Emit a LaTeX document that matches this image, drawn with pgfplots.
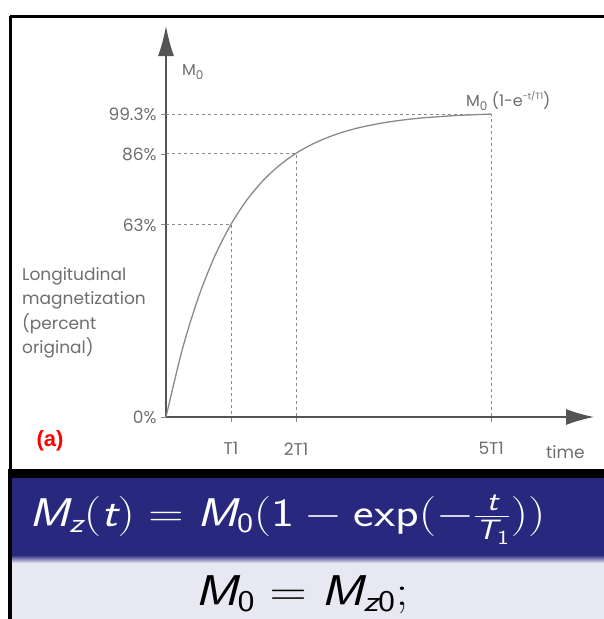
\RequirePackage{fix-cm}
\documentclass[border=0pt]{standalone}
\usepackage{amsmath}
\usepackage{fontspec}
\usepackage{pgfplots}
\pgfplotsset{compat=1.18}
\usetikzlibrary{arrows.meta}
\newfontfamily\pop{Poppins}
\newfontfamily\arial{Liberation Sans}
\definecolor{bandblue}{HTML}{28287F}
\definecolor{lav}{HTML}{E8E8F2}
\definecolor{lbl}{HTML}{6E6E6E}
\definecolor{crv}{HTML}{8A8A8A}
\definecolor{axc}{HTML}{555555}
\newcommand\sv[1]{\text{\sffamily\slshape #1}}
\newcommand\su[1]{\text{\sffamily #1}}
\begin{document}
\begin{tikzpicture}[x=1pt,y=1pt]
\path[use as bounding box] (0,0) rectangle (603,-619);
% frame
\draw[line width=3pt] (10,-16) -- (612,-16);
\draw[line width=3pt] (10,-16) -- (10,-471);
\fill[black] (8,-469) rectangle (612,-477.5);
\fill[bandblue] (8,-477.5) rectangle (612,-555);
\shade[top color=bandblue, bottom color=lav] (8,-555) rectangle (612,-563);
\fill[lav] (8,-563) rectangle (612,-619);
\fill[black] (8,-477) rectangle (12,-619);
\begin{axis}[
  at={(166pt,-417pt)}, anchor=south west,
  scale only axis, width=428pt, height=391pt,
  xmin=0, xmax=6.58, ymin=0, ymax=128.2,
  axis lines=left,
  axis line style={draw=axc, line width=1.3pt},
  every outer x axis line/.append style={-{Latex[length=28pt,width=16pt]}},
  every outer y axis line/.append style={-{Latex[length=30pt,width=16pt]}},
  xtick={1,2,5}, xticklabels={T1,2T1,5T1},
  ytick={0,63,86,99.3}, yticklabels={0\%,63\%,86\%,99.3\%},
  tick style={draw=crv, line width=0.8pt},
  major tick length=5pt, tick align=outside,
  ticklabel style={font=\pop\fontsize{17}{20}\selectfont, text=lbl},
  xticklabel style={yshift=-17pt},
  yticklabel style={xshift=-1pt},
  clip=false,
]
\addplot[crv, dash pattern=on 3pt off 3pt, line width=0.9pt] coordinates {(0,99.3) (5,99.3) (5,0)};
\addplot[crv, dash pattern=on 3pt off 3pt, line width=0.9pt] coordinates {(0,86.47) (2,86.47) (2,0)};
\addplot[crv, dash pattern=on 3pt off 3pt, line width=0.9pt] coordinates {(0,63.21) (1,63.21) (1,0)};
\addplot[crv, line width=1.3pt, smooth] coordinates {
(0,0) (0.25,22.12) (0.5,39.35) (0.75,52.76) (1.0,63.21) (1.25,71.35)
(1.5,77.69) (1.75,82.62) (2.0,86.47) (2.25,89.46) (2.5,91.79) (2.75,93.61)
(3.0,95.02) (3.25,96.12) (3.5,96.98) (3.75,97.65) (4.0,98.17) (4.5,98.89) (5.0,99.33)};
\end{axis}
% labels
\node[anchor=west, text=lbl, font=\pop\fontsize{17}{20}\selectfont, inner sep=0] at (546,-452) {time};
\node[anchor=west, text=lbl, font=\pop\fontsize{16}{20}\selectfont, inner sep=0] at (182,-72) {M\raisebox{-4pt}{\fontsize{12}{12}\selectfont 0}};
\node[anchor=west, text=lbl, font=\pop\fontsize{16}{20}\selectfont, inner sep=0] at (466,-101) {M\raisebox{-4pt}{\fontsize{12}{12}\selectfont 0} (1-e\raisebox{7pt}{\fontsize{9}{9}\selectfont -t/T1})};
\node[anchor=north west, align=left, text=lbl, font=\pop\fontsize{17}{24.5}\selectfont, inner sep=0] at (22,-267) {Longitudinal\\magnetization\\(percent\\original)};
\node[text=red, font=\arial\bfseries\fontsize{22}{24}\selectfont, inner sep=0] at (50,-441) {(a)};
% formulas
\node[text=white, anchor=base west, font=\fontsize{40}{44}\selectfont, inner sep=0] at (29,-526) {\scalebox{1.22}[1]{$\sv{M}_{\sv{z}}(\sv{t}) = \sv{M}_{\su{0}}(\su{1} - \su{exp}(-\frac{\sv{t}}{\sv{T}_{\su{1}}}))$}};
\node[text=black, anchor=base, font=\fontsize{43}{46}\selectfont, inner sep=0] at (302,-605) {\scalebox{1.2}[1]{$\sv{M}_{\su{0}} = \sv{M}_{\sv{z}\su{0}};$}};
\end{tikzpicture}
\end{document}
